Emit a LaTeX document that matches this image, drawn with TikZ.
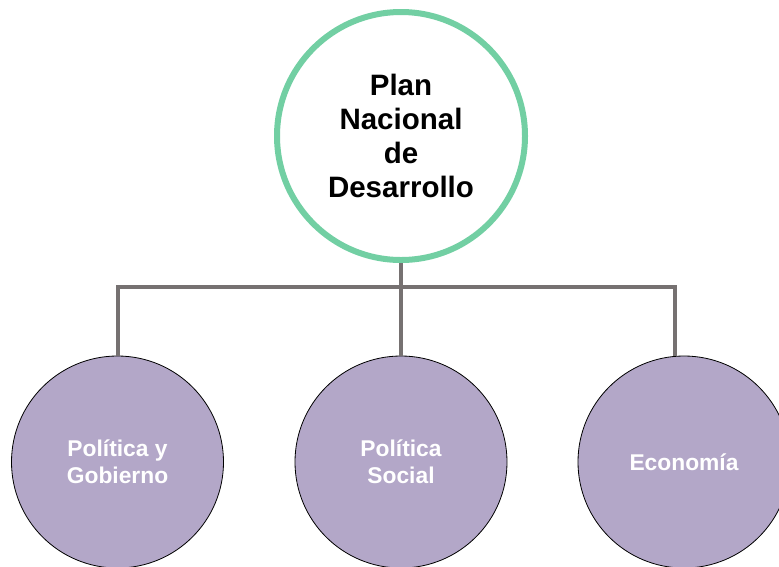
\documentclass[tikz,border=0pt]{standalone}
\usepackage{fontspec}
\setmainfont{Liberation Sans}
\definecolor{ringgreen}{RGB}{114,207,163}
\definecolor{leafpurple}{RGB}{179,167,200}
\definecolor{linegray}{RGB}{118,113,113}
\begin{document}
\begin{tikzpicture}[x=1pt,y=1pt,
  rootnode/.style={circle,draw=ringgreen,line width=6pt,fill=white,minimum size=248pt,inner sep=0pt,align=center,
    font=\fontsize{29.5}{34}\selectfont\bfseries,text=black},
  leafnode/.style={circle,draw=black,line width=0.8pt,fill=leafpurple,minimum size=212pt,inner sep=0pt,align=center,
    font=\fontsize{22.8}{27}\selectfont\bfseries,text=white},
  link/.style={draw=linegray,line width=4pt}]
\useasboundingbox (0,0) rectangle (779,-566);
\node[leafnode] (left) at (117.5,-462) {Política y\\Gobierno};
\node[leafnode] (mid) at (401,-462) {Política\\Social};
\node[leafnode] (right) at (684,-462) {Economía};
\node[rootnode] (root) at (401,-136) {Plan\\Nacional\\de\\Desarrollo};
\coordinate (hub) at (401,-287);
\draw[link] (root.south) -- (hub);
\draw[link] (left.north) |- (hub) -| ([xshift=-9pt]right.north);
\draw[link] (hub) -- (mid.north);
\end{tikzpicture}
\end{document}
